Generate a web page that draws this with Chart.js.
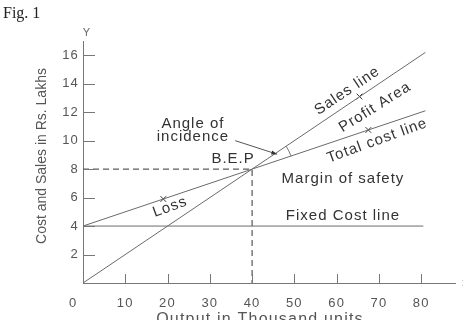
<!DOCTYPE html>
<html>
<head>
<meta charset="utf-8">
<script src="https://cdn.jsdelivr.net/npm/chart.js@4.4.1/dist/chart.umd.min.js"></script>
<style>
  html, body { margin: 0; padding: 0; background: #fff; }
  #wrap { width: 468px; height: 320px; position: relative; }
</style>
</head>
<body>
<div id="wrap"><canvas id="bepChart"></canvas></div>
<script>
// Break-even chart data (output in thousand units, Rs. lakhs)
const salesLine = [{x: 0, y: 0}, {x: 81, y: 16.2}];
const totalCostLine = [{x: 0, y: 4}, {x: 81, y: 12.1}];
const fixedCostLine = [{x: 0, y: 4}, {x: 80.5, y: 4}];
const bepGuide = [{x: 0, y: 8}, {x: 40, y: 8}, {x: 40, y: 0}];
const crossMarks = [{x: 19, y: 5.9}, {x: 65.4, y: 13.1}, {x: 67.5, y: 10.75}];

const xTicks = [10, 20, 30, 40, 50, 60, 70, 80];
const yTicks = [2, 4, 6, 8, 10, 12, 14, 16];

// text labels placed in data units
const labels = [
    {text: 'Angle of', x: 26, y: 11.2, rot: 0},
    {text: 'incidence', x: 26, y: 10.25, rot: 0},
    {text: 'B.E.P', x: 35.5, y: 8.7, rot: 0},
    {text: 'Margin of safety', x: 61.5, y: 7.3, rot: 0},
    {text: 'Fixed Cost line', x: 61.5, y: 4.7, rot: 0},
    {text: 'Loss', x: 20.6, y: 5.33, rot: -20},
    {text: 'Sales line', x: 62.5, y: 13.5, rot: -34},
    {text: 'Profit Area', x: 69.1, y: 12.35, rot: -32},
    {text: 'Total cost line', x: 69.6, y: 10.0, rot: -20}
];

const LINE = '#6a6a6a';
const TEXT = '#333';

const extras = {
    id: 'extras',
    beforeDraw(chart) {
        chart.ctx.letterSpacing = '1.2px';
    },
    afterDatasetsDraw(chart) {
        const ctx = chart.ctx;
        const xs = chart.scales.x;
        const ys = chart.scales.y;
        const area = chart.chartArea;
        ctx.save();

        // tick marks inside the plot
        ctx.strokeStyle = '#777';
        ctx.lineWidth = 1;
        ctx.beginPath();
        yTicks.forEach(v => {
            const py = Math.round(ys.getPixelForValue(v)) + 0.5;
            ctx.moveTo(area.left, py);
            ctx.lineTo(area.left + 12, py);
        });
        xTicks.forEach(v => {
            const px = Math.round(xs.getPixelForValue(v)) + 0.5;
            ctx.moveTo(px, area.bottom);
            ctx.lineTo(px, area.bottom - 9);
        });
        ctx.stroke();

        // angle of incidence arc
        const bx = xs.getPixelForValue(40), by = ys.getPixelForValue(8);
        const a1 = Math.atan2(ys.getPixelForValue(16.2) - by, xs.getPixelForValue(81) - bx);
        const a2 = Math.atan2(ys.getPixelForValue(12.1) - by, xs.getPixelForValue(81) - bx);
        ctx.beginPath();
        ctx.arc(bx, by, 41, a1, a2);
        ctx.stroke();

        // arrow
        const ax1 = xs.getPixelForValue(36), ay1 = ys.getPixelForValue(10.0);
        const ax2 = xs.getPixelForValue(45.9), ay2 = ys.getPixelForValue(9.05);
        ctx.strokeStyle = '#555';
        ctx.beginPath();
        ctx.moveTo(ax1, ay1);
        ctx.lineTo(ax2, ay2);
        ctx.stroke();
        const ang = Math.atan2(ay2 - ay1, ax2 - ax1);
        ctx.fillStyle = '#333';
        ctx.beginPath();
        ctx.moveTo(ax2, ay2);
        ctx.lineTo(ax2 - 6 * Math.cos(ang - 0.35), ay2 - 6 * Math.sin(ang - 0.35));
        ctx.lineTo(ax2 - 6 * Math.cos(ang + 0.35), ay2 - 6 * Math.sin(ang + 0.35));
        ctx.closePath();
        ctx.fill();

        // annotation text
        ctx.fillStyle = TEXT;
        ctx.font = '15px "Liberation Sans", Arial, sans-serif';
        ctx.letterSpacing = '1px';
        ctx.textAlign = 'center';
        ctx.textBaseline = 'middle';
        labels.forEach(l => {
            ctx.save();
            ctx.translate(xs.getPixelForValue(l.x), ys.getPixelForValue(l.y));
            ctx.rotate(l.rot * Math.PI / 180);
            ctx.fillText(l.text, 0, 0);
            ctx.restore();
        });

        // origin label, axis letters
        ctx.fillStyle = '#555';
        ctx.font = '13px "Liberation Sans", Arial, sans-serif';
        ctx.fillText('0', area.left - 10, area.bottom + 20);
        ctx.font = '11px "Liberation Sans", Arial, sans-serif';
        ctx.fillStyle = '#666';
        ctx.fillText('Y', area.left + 4, area.top - 8);
        ctx.fillStyle = '#ccc';
        ctx.fillText(':', area.right + 8, area.bottom);

        // axis titles
        ctx.fillStyle = '#555';
        ctx.font = '16px "Liberation Sans", Arial, sans-serif';
        ctx.letterSpacing = '1.2px';
        ctx.textBaseline = 'alphabetic';
        ctx.fillText('Output in Thousand units', 260, 324);
        ctx.textBaseline = 'middle';
        ctx.font = '14px "Liberation Sans", Arial, sans-serif';
        ctx.letterSpacing = '0px';
        ctx.save();
        ctx.translate(42, 156);
        ctx.rotate(-Math.PI / 2);
        ctx.fillText('Cost and Sales in Rs. Lakhs', 0, 0);
        ctx.restore();

        // figure caption
        ctx.fillStyle = '#222';
        ctx.textAlign = 'left';
        ctx.textBaseline = 'alphabetic';
        ctx.font = '16px "Liberation Serif", "Times New Roman", serif';
        ctx.fillText('Fig. 1', 3, 18);

        ctx.restore();
    }
};

const lineStyle = {
    borderColor: LINE,
    borderWidth: 1,
    pointRadius: 0,
    showLine: true,
    fill: false,
    tension: 0
};

new Chart(document.getElementById('bepChart'), {
    type: 'scatter',
    data: {
        datasets: [
            Object.assign({label: 'Sales line', data: salesLine}, lineStyle),
            Object.assign({label: 'Total cost line', data: totalCostLine}, lineStyle),
            Object.assign({label: 'Fixed Cost line', data: fixedCostLine}, lineStyle),
            Object.assign({label: 'B.E.P', data: bepGuide}, lineStyle,
                {borderColor: '#333', borderDash: [6, 4]}),
            {
                label: 'marks',
                data: crossMarks,
                showLine: false,
                pointStyle: 'crossRot',
                pointRadius: 4,
                borderColor: '#333',
                borderWidth: 1
            }
        ]
    },
    options: {
        responsive: true,
        maintainAspectRatio: false,
        animation: false,
        layout: {padding: {top: 41, right: 13, left: 0, bottom: 0}},
        plugins: {legend: {display: false}, tooltip: {enabled: false}},
        scales: {
            x: {
                type: 'linear',
                min: 0,
                max: 88,
                afterBuildTicks: s => { s.ticks = xTicks.map(v => ({value: v})); },
                afterFit: s => { s.height = 37; },
                grid: {display: false, drawTicks: false},
                border: {color: '#777', width: 1},
                ticks: {
                    color: '#555',
                    padding: 13,
                    maxRotation: 0,
                    font: {family: '"Liberation Sans", Arial, sans-serif', size: 13}
                }
            },
            y: {
                type: 'linear',
                min: 0,
                max: 17,
                afterBuildTicks: s => { s.ticks = yTicks.map(v => ({value: v})); },
                afterFit: s => { s.width = 83; },
                grid: {display: false, drawTicks: false},
                border: {color: '#777', width: 1},
                ticks: {
                    color: '#555',
                    padding: 4,
                    font: {family: '"Liberation Sans", Arial, sans-serif', size: 13}
                }
            }
        }
    },
    plugins: [extras]
});
</script>
</body>
</html>
